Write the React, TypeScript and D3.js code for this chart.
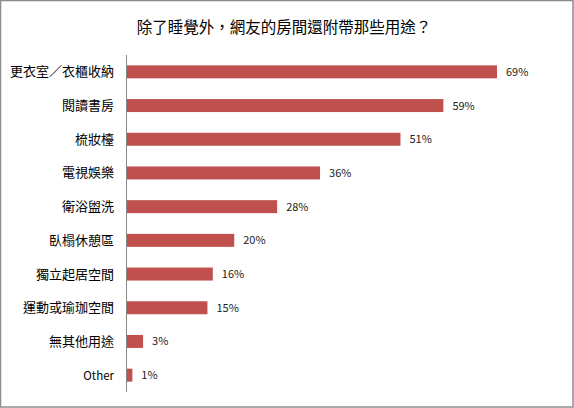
import React from "react";
import * as d3 from "d3";

const categories = [
  "更衣室／衣櫃收納",
  "閱讀書房",
  "梳妝檯",
  "電視娛樂",
  "衛浴盥洗",
  "臥榻休憩區",
  "獨立起居空間",
  "運動或瑜珈空間",
  "無其他用途",
  "Other",
];
const values = [69, 59, 51, 36, 28, 20, 16, 15, 3, 1];
const title = "除了睡覺外，網友的房間還附帶那些用途？";

const W = 574;
const H = 408;
const FONT = "'Noto Sans CJK TC', 'Noto Sans', sans-serif";

export default function App() {
  const x = d3.scaleLinear().domain([0, 69]).range([127, 497]);
  const y = d3
    .scaleBand<string>()
    .domain(categories)
    .range([55, 392])
    .paddingInner(0.615)
    .paddingOuter(0.3075);
  return (
    <svg
      width={W}
      height={H}
      style={{ position: "absolute", left: 0, top: 0, background: "#fff" }}
      fontFamily={FONT}
    >
      <rect x={0.5} y={0.5} width={W - 1.5} height={H - 1.5} fill="#fff" stroke="#8c8c8c" strokeWidth={1.5} />
      <text x={284} y={33} textAnchor="middle" fontSize={15.5} fill="#000">
        {title}
      </text>
      {categories.map((c, i) => {
        const yy = y(c)!;
        const bh = y.bandwidth();
        return (
          <g key={c}>
            <rect x={x(0)} y={yy} width={x(values[i]) - x(0)} height={bh} fill="#C0504D" />
            <text
              x={x(values[i]) + 9}
              y={yy + bh / 2 + 4}
              fontSize={11}
              fill="#222"
            >
              {values[i]}%
            </text>
            <text
              x={114}
              y={yy + bh / 2 + 4.5}
              textAnchor="end"
              fontSize={c === "Other" ? 11.5 : 13}
              fill="#000"
            >
              {c}
            </text>
          </g>
        );
      })}
      <line x1={126.5} x2={126.5} y1={55} y2={392} stroke="#888" strokeWidth={1} />
    </svg>
  );
}
